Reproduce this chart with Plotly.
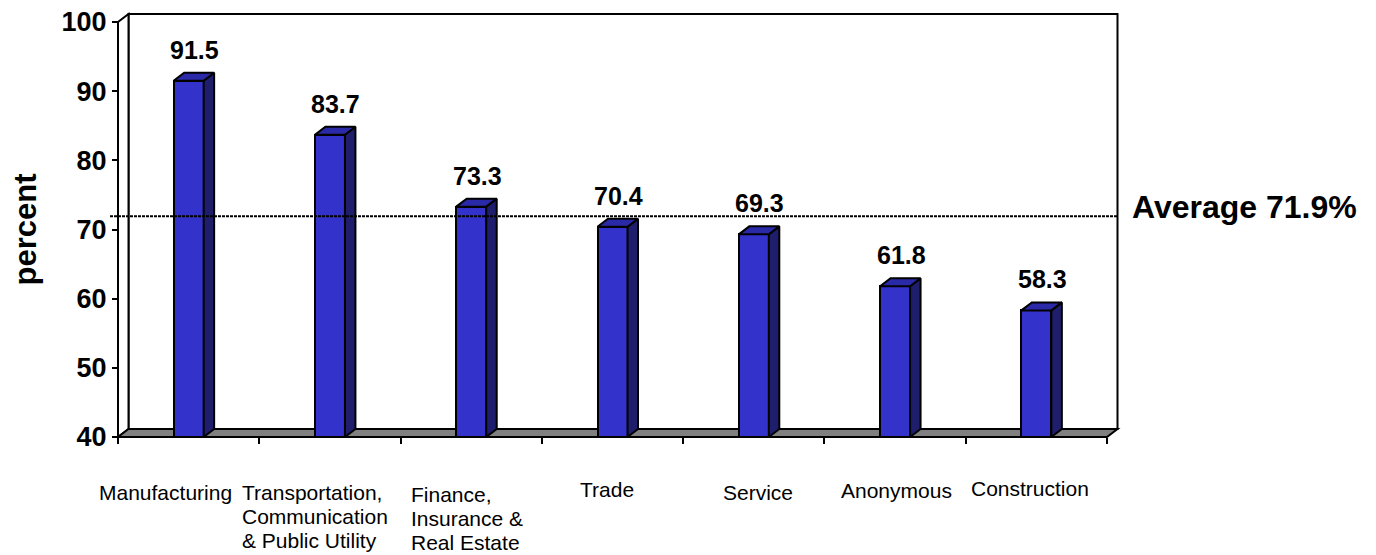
import plotly.graph_objects as go

# ---------------- data ----------------
categories = [
    "Manufacturing",
    "Transportation,<br>Communication<br>& Public Utility",
    "Finance,<br>Insurance &<br>Real Estate",
    "Trade",
    "Service",
    "Anonymous",
    "Construction",
]
values = [91.5, 83.7, 73.3, 70.4, 69.3, 61.8, 58.3]
value_labels = ["91.5", "83.7", "73.3", "70.4", "69.3", "61.8", "58.3"]
y_ticks = [40, 50, 60, 70, 80, 90, 100]
average = 71.9
average_label = "Average 71.9%"
y_title = "percent"

# ---------------- geometry / style ----------------
PAGE_W, PAGE_H = 1376, 555
BODY = 8                       # default body margin of the html page
W, H = PAGE_W - BODY, PAGE_H - BODY
Y_MIN, Y_MAX = 40, 100
N = len(categories)
# pixel frame of the front plane (page pixels)
FX0, FX1 = 118, 1107          # x=0 .. x=N
FY0, FY1 = 437, 22            # y=Y_MIN .. y=Y_MAX
PX_PER_X = (FX1 - FX0) / N
PX_PER_Y = (FY0 - FY1) / (Y_MAX - Y_MIN)
# plot area (page pixels)
L, R, T, B = 100, 1130, 10, 445
x_lo = (L - FX0) / PX_PER_X
x_hi = (R - FX0) / PX_PER_X
y_lo = Y_MIN - (B - FY0) / PX_PER_Y
y_hi = Y_MIN + (FY0 - T) / PX_PER_Y
# 3-D depth offset
DX = 10.5 / PX_PER_X
DY = 8 / PX_PER_Y
BAR_W = 30 / PX_PER_X

FONT = "Arial, Liberation Sans, sans-serif"
FRONT = "#3333CC"
SIDE = "#1E1E6C"
TOP = "#2A2AA8"
EDGE = "black"
LW = 2

fig = go.Figure()

xs = [i + 0.5 for i in range(N)]
fig.add_trace(go.Bar(
    x=xs, y=[v - Y_MIN for v in values], base=[Y_MIN] * N, width=BAR_W,
    marker=dict(color=FRONT, line=dict(color=EDGE, width=LW)),
    showlegend=False, hoverinfo="skip",
))
for x, v in zip(xs, values):
    xl, xr = x - BAR_W / 2, x + BAR_W / 2
    # side face
    fig.add_trace(go.Scatter(
        x=[xr, xr, xr + DX, xr + DX, xr], y=[Y_MIN, v, v + DY, Y_MIN + DY, Y_MIN],
        mode="lines", fill="toself", fillcolor=SIDE,
        line=dict(color=EDGE, width=LW), showlegend=False, hoverinfo="skip"))
    # top face
    fig.add_trace(go.Scatter(
        x=[xl, xr, xr + DX, xl + DX, xl], y=[v, v, v + DY, v + DY, v],
        mode="lines", fill="toself", fillcolor=TOP,
        line=dict(color=EDGE, width=LW), showlegend=False, hoverinfo="skip"))

shapes = [
    # back wall
    dict(type="rect", x0=DX, x1=N + DX, y0=Y_MIN + DY, y1=Y_MAX + DY,
         fillcolor="white", line=dict(color=EDGE, width=LW), layer="below"),
    # left side wall
    dict(type="path",
         path=f"M 0 {Y_MIN} L 0 {Y_MAX} L {DX} {Y_MAX + DY} L {DX} {Y_MIN + DY} Z",
         fillcolor="white", line=dict(color=EDGE, width=LW), layer="below"),
    # floor
    dict(type="path",
         path=f"M 0 {Y_MIN} L {N} {Y_MIN} L {N + DX} {Y_MIN + DY} L {DX} {Y_MIN + DY} Z",
         fillcolor="#808080", line=dict(color=EDGE, width=LW), layer="below"),
    # average line
    dict(type="line", x0=-8 / PX_PER_X, x1=N + DX, y0=average, y1=average,
         line=dict(color="black", width=2, dash="3px,1px"), layer="above"),
]

annotations = []
for x, v, t in zip(xs, values, value_labels):
    annotations.append(dict(
        x=x, y=v, text=t, showarrow=False, xanchor="center", yanchor="middle",
        xshift=6, yshift=31, font=dict(family=FONT, size=25, color="black", weight="bold")))

# category labels: left-aligned blocks, one annotation per text line
cat_left = [-90.6, -89, -61.4, -33.5, -31.8, -55, -66]     # px from category centre
cat_first = [492, 492, 494, 489, 492, 490, 488]            # page px of first line centre
LINE_H = 24
for x, c, lx, fy in zip(xs, categories, cat_left, cat_first):
    for k, line in enumerate(c.split("<br>")):
        annotations.append(dict(
            x=x, y=Y_MIN, text=line, showarrow=False, xanchor="left", yanchor="middle",
            xshift=lx, yshift=-(fy + k * LINE_H - FY0), borderpad=0,
            font=dict(family=FONT, size=21, color="black")))

annotations.append(dict(
    x=N + DX, y=average, text=average_label, showarrow=False,
    xanchor="left", yanchor="middle", xshift=12, yshift=9,
    font=dict(family=FONT, size=32, color="black", weight="bold")))

annotations.append(dict(
    xref="paper", yref="paper",
    x=(25 - L) / (R - L), y=(B - 229.5) / (B - T),
    text=y_title, textangle=-90, showarrow=False,
    xanchor="center", yanchor="middle",
    font=dict(family=FONT, size=31, color="black", weight="bold")))

fig.update_layout(
    width=W, height=H,
    margin=dict(l=L - BODY, r=PAGE_W - R, t=T - BODY, b=PAGE_H - B, autoexpand=False),
    paper_bgcolor="white", plot_bgcolor="white",
    showlegend=False, bargap=0,
    shapes=shapes, annotations=annotations,
    xaxis=dict(
        range=[x_lo, x_hi], anchor="free",
        position=(Y_MIN - y_lo) / (y_hi - y_lo),
        tickmode="array", tickvals=list(range(N + 1)), showticklabels=False,
        ticks="outside", ticklen=6, tickwidth=2, tickcolor="black",
        showgrid=False, zeroline=False, showline=False, fixedrange=True,
    ),
    yaxis=dict(
        range=[y_lo, y_hi], anchor="free",
        position=(0 - x_lo) / (x_hi - x_lo),
        tickmode="array", tickvals=y_ticks, ticktext=[str(t) for t in y_ticks],
        ticks="outside", ticklen=6, tickwidth=2, tickcolor="black",
        ticklabeloverflow="allow",
        tickfont=dict(family=FONT, size=27, color="black", weight="bold"),
        showgrid=False, zeroline=False, showline=False, fixedrange=True,
    ),
)

fig.write_html("out.html")
